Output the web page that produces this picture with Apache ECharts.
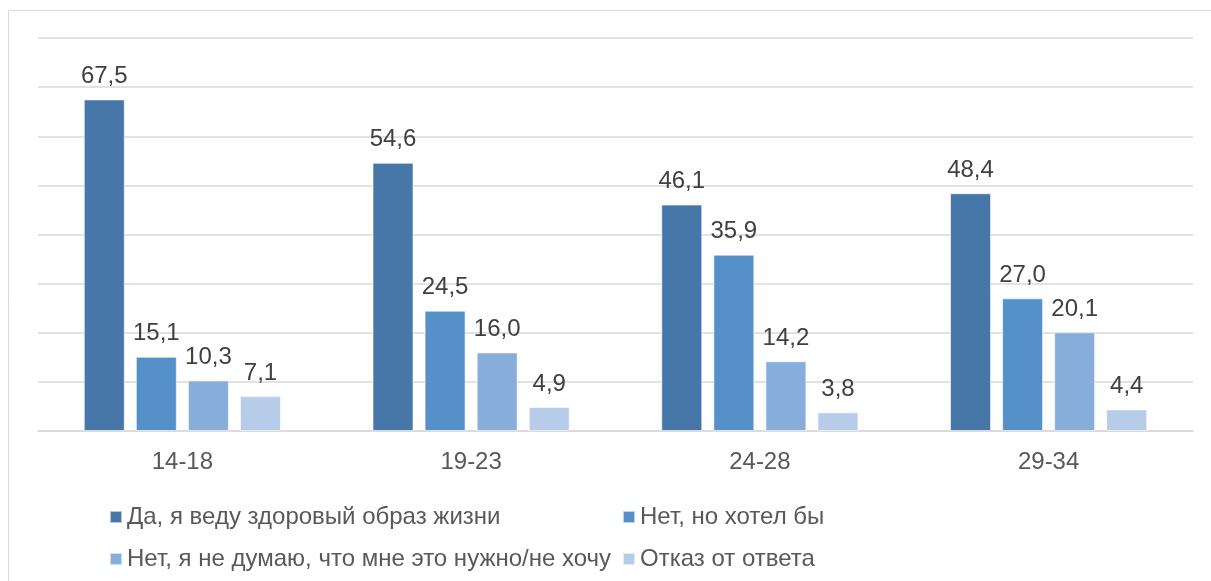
<!DOCTYPE html>
<html>
<head>
<meta charset="utf-8">
<script src="https://cdn.jsdelivr.net/npm/echarts@6/dist/echarts.min.js"></script>
<style>
  html, body { margin: 0; padding: 0; background: #fff; }
  #chart { width: 1211px; height: 581px; }
</style>
</head>
<body>
<div id="chart"></div>
<script>
// age groups
let categories = ['14-18', '19-23', '24-28', '29-34'];
let series_names = [
    'Да, я веду здоровый образ жизни',
    'Нет, но хотел бы',
    'Нет, я не думаю, что мне это нужно/не хочу',
    'Отказ от ответа'
];
let yes_values = [67.5, 54.6, 46.1, 48.4];
let want_values = [15.1, 24.5, 35.9, 27.0];
let no_values = [10.3, 16.0, 14.2, 20.1];
let refuse_values = [7.1, 4.9, 3.8, 4.4];
let colors = ['#4677a8', '#5591c8', '#87aedb', '#b7cce8'];

let font = 'Arial, "Liberation Sans", sans-serif';

function make_series(idx, values) {
    return {
        name: series_names[idx],
        type: 'bar',
        data: values,
        barWidth: 41,
        barGap: '27%',
        itemStyle: {
            color: colors[idx],
            borderColor: 'rgba(255,255,255,0.6)',
            borderWidth: 1
        },
        label: {
            show: true,
            position: 'top',
            distance: 11,
            color: '#404040',
            fontSize: 24,
            fontFamily: font,
            formatter: function (p) {
                return p.value.toFixed(1).replace('.', ',');
            }
        }
    };
}

function make_legend(idx, left, top) {
    return {
        data: [series_names[idx]],
        left: left,
        top: top,
        icon: 'rect',
        itemWidth: 12,
        itemHeight: 12,
        itemGap: 0,
        textStyle: {
            color: '#595959',
            fontSize: 24,
            fontFamily: font
        },
        selectedMode: false
    };
}

let option = {
    animation: false,
    backgroundColor: '#fff',
    graphic: [{
        type: 'rect',
        shape: { x: 8.5, y: 10.5, width: 1220, height: 600 },
        style: { fill: 'none', stroke: '#d9d9d9', lineWidth: 1 },
        silent: true
    }],
    legend: [
        make_legend(0, 104, 500),
        make_legend(1, 617, 500),
        make_legend(2, 104, 542),
        make_legend(3, 617, 542)
    ],
    grid: {
        left: 38,
        right: 18,
        top: 38,
        bottom: 150,
        containLabel: false
    },
    xAxis: {
        type: 'category',
        data: categories,
        axisTick: { show: false },
        axisLine: { lineStyle: { color: '#d9d9d9', width: 1.5 } },
        axisLabel: {
            color: '#595959',
            fontSize: 24,
            fontFamily: font,
            margin: 19
        }
    },
    yAxis: {
        type: 'value',
        min: 0,
        max: 80,
        interval: 10,
        axisLabel: { show: false },
        axisLine: { show: false },
        axisTick: { show: false },
        splitLine: { lineStyle: { color: '#d9d9d9', width: 1.5 } }
    },
    series: [
        make_series(0, yes_values),
        make_series(1, want_values),
        make_series(2, no_values),
        make_series(3, refuse_values)
    ]
};

let myChart = echarts.init(document.getElementById('chart'));
myChart.setOption(option);
</script>
</body>
</html>
